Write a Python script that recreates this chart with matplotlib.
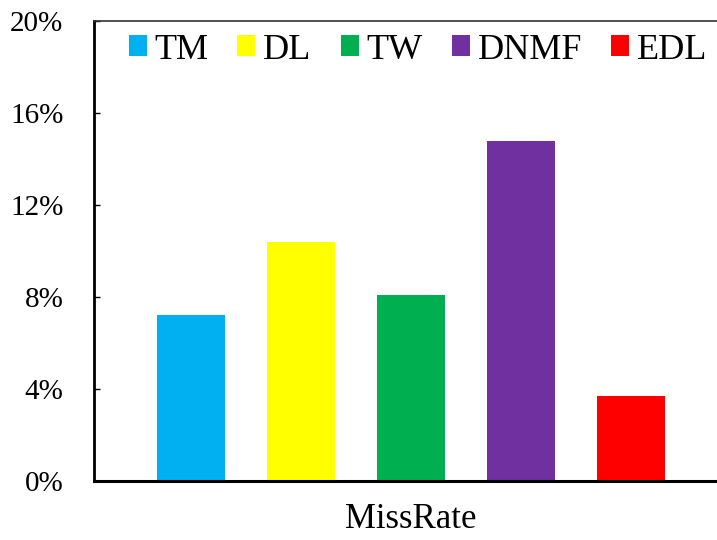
import matplotlib
matplotlib.use("Agg")
import matplotlib.pyplot as plt
from matplotlib.patches import Patch

plt.rcParams['font.family'] = 'Liberation Serif'

# miss rate of each method (%)
methods = ["TM", "DL", "TW", "DNMF", "EDL"]
miss_rate = [7.2, 10.4, 8.1, 14.8, 3.7]
colors = ["#00B0F0", "#FFFF00", "#00B050", "#7030A0", "#FF0000"]
yticks = [0, 4, 8, 12, 16, 20]

fig = plt.figure(figsize=(7.17, 5.40), dpi=100)
ax = fig.add_axes([94/717, 59/540, 634/717, 460/540])

xs = range(len(methods))
ax.bar(xs, miss_rate, width=0.618, color=colors, zorder=2)

ax.set_xlim(-0.88, 4.88)
ax.set_ylim(0, 20)
ax.set_yticks(yticks)
ax.set_yticklabels(["%d%%" % v for v in yticks])
ax.tick_params(axis='y', direction='in', length=4.5, width=1, pad=22, labelsize=21)
ax.set_xticks([])
ax.set_xlabel("MissRate", fontsize=25, labelpad=16)

ax.spines['right'].set_visible(False)
ax.spines['left'].set_linewidth(2)
ax.spines['bottom'].set_linewidth(2.2)
ax.spines['top'].set_linewidth(1.2)
ax.spines['top'].set_color('#333333')

handles = [Patch(facecolor=c, edgecolor='none') for c in colors]
ax.legend(handles, methods, ncol=5, loc='upper left', bbox_to_anchor=(0.026, 1.012),
          frameon=False, fontsize=26, handlelength=0.5, handleheight=0.5,
          handletextpad=0.22, columnspacing=0.8, borderaxespad=0.1)

fig.savefig("out.png", dpi=100)
